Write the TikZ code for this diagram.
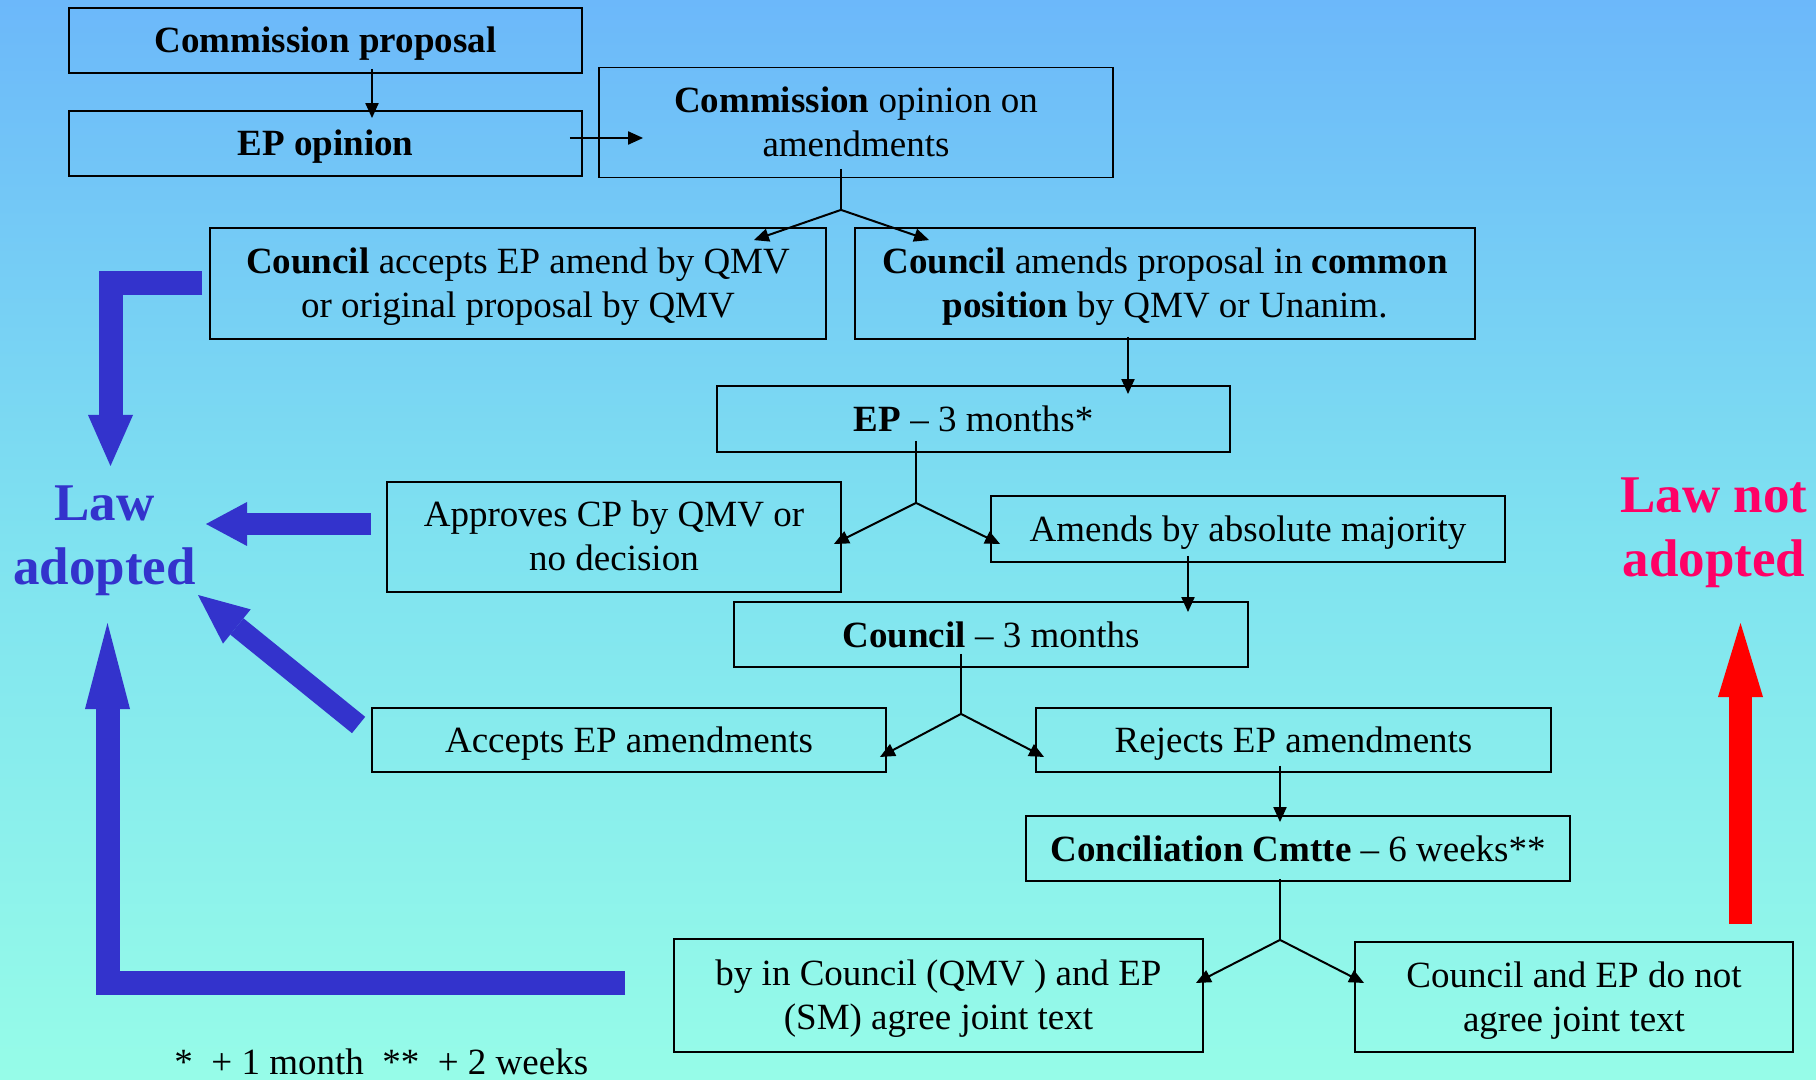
\documentclass[tikz,border=0pt]{standalone}
\usepackage{fontspec}
\setmainfont{Liberation Serif}
\usetikzlibrary{arrows.meta,calc}
\definecolor{bgtop}{RGB}{108,184,250}
\definecolor{bgmid}{RGB}{127,226,240}
\definecolor{bgbot}{RGB}{150,252,232}
\definecolor{lawblue}{RGB}{51,51,204}
\definecolor{lawred}{RGB}{255,0,102}
\newcommand{\topst}{\rule{0pt}{16.5pt}}
\newcommand{\botst}{\rule[-4.5pt]{0pt}{4.5pt}}
\begin{document}
\begin{tikzpicture}[x=0.5pt,y=-0.5pt,
  boxbase/.style={draw=black, line width=0.9pt, inner sep=0pt,
    font=\fontsize{18.5}{22}\selectfont},
  box/.style={boxbase, align=center},
  boxone/.style={boxbase, text height=17pt, text depth=4.5pt},
  arr/.style={draw=black, line width=1pt, -{Triangle[length=7.5pt,width=6.5pt]}},
  stem/.style={draw=black, line width=0.6pt},
  bigblue/.style={draw=lawblue, line width=#1},
  bigtxt/.style={font=\fontsize{26.5}{32}\selectfont\bfseries, align=center, inner sep=0pt}]
\useasboundingbox (0,0) rectangle (1816,1080);
\shade[top color=bgtop, bottom color=bgbot, middle color=bgmid] (0,0) rectangle (1816,1080);

% boxes
\node[boxone, minimum width=256.5pt, minimum height=32.5pt] (cp) at (325.5,40.5) {\textbf{Commission proposal}};
\node[boxone, minimum width=256.5pt, minimum height=32.5pt] (epo) at (325.5,143.5) {\textbf{EP opinion}};
\node[box, minimum width=257pt, minimum height=55pt] (co) at (856,122.5) {\topst\textbf{Commission} opinion on\\amendments\botst};
\node[box, minimum width=308pt, minimum height=55.5pt] (ca) at (518,283.5) {\topst\textbf{Council} accepts EP amend by QMV\\or original proposal by QMV\botst};
\node[box, minimum width=310pt, minimum height=55.5pt] (cam) at (1165,283.5) {\topst\textbf{Council} amends proposal in \textbf{common}\\\textbf{position} by QMV or Unanim.\botst};
\node[boxone, minimum width=256.5pt, minimum height=33pt] (ep3) at (973.5,419) {\textbf{EP} – 3 months*};
\node[box, minimum width=227pt, minimum height=55pt] (apr) at (614,537) {\topst Approves CP by QMV or\\no decision\botst};
\node[boxone, minimum width=257pt, minimum height=33pt] (amd) at (1248,529) {Amends by absolute majority};
\node[boxone, minimum width=257pt, minimum height=32.5pt] (c3) at (991,634.5) {\textbf{Council} – 3 months};
\node[boxone, minimum width=257pt, minimum height=32pt] (acc) at (629,740) {Accepts EP amendments};
\node[boxone, minimum width=257.5pt, minimum height=32pt] (rej) at (1293.5,740) {Rejects EP amendments};
\node[boxone, minimum width=272pt, minimum height=32.5pt] (conc) at (1298,848.5) {\textbf{Conciliation Cmtte} – 6 weeks**};
\node[box, minimum width=264.5pt, minimum height=56.5pt] (agr) at (938.5,995.5) {\topst by in Council (QMV ) and EP\\(SM) agree joint text\botst};
\node[box, minimum width=219pt, minimum height=55pt] (nagr) at (1574,997) {\topst Council and EP do not\\agree joint text\botst};

% outcome labels
\node[bigtxt, text=lawblue] (law) at (104.5,541) {Law\\adopted};
\node[bigtxt, text=lawred] (nolaw) at (1714,533) {Law not\\adopted};
\node[anchor=base west, inner sep=0pt, font=\fontsize{18.5}{22}\selectfont] (fn) at (174,1074) {*\ \ + 1 month \ **\ \ + 2 weeks};

% thin connectors
\draw[arr] ($(cp.south)+(46.5,-5)$) -- ($(epo.north)+(46.5,8)$);
\draw[arr] ($(epo.east)+(-13,-5.5)$) -- ($(co.west)+(45,15.5)$);

\coordinate (f1) at ($(co.south)+(-15,31.5)$);
\draw[stem] ($(co.south)+(-15,-9.5)$) -- (f1);
\draw[arr] (f1) -- ($(ca.north east)+(-73,13)$);
\draw[arr] (f1) -- ($(cam.north west)+(75,13)$);

\draw[arr] ($(cam.south)+(-37,-3)$) -- ($(ep3.north)+(154.5,9)$);

\coordinate (f2) at ($(ep3.south)+(-57.5,50)$);
\draw[stem] ($(ep3.south)+(-57.5,-12)$) -- (f2);
\draw[arr] (f2) -- ($(apr.east)+(-8,7)$);
\draw[arr] (f2) -- ($(amd.west)+(10,15)$);

\draw[arr] ($(amd.south)+(-60,-7)$) -- ($(c3.north)+(197,11)$);

\coordinate (f3) at ($(c3.south)+(-30,46)$);
\draw[stem] ($(c3.south)+(-30,-14)$) -- (f3);
\draw[arr] (f3) -- ($(acc.east)+(-7,17)$);
\draw[arr] (f3) -- ($(rej.west)+(9,17)$);

\draw[arr] ($(rej.south)+(-13.5,-7)$) -- ($(conc.north)+(-18,7)$);

\coordinate (f4) at ($(conc.south)+(-18,58)$);
\draw[stem] ($(conc.south)+(-18,-3)$) -- (f4);
\draw[arr] (f4) -- ($(agr.east)+(-8,-12.5)$);
\draw[arr] (f4) -- ($(nagr.west)+(10,-14)$);

% thick outcome arrows
\coordinate (a1t) at (110.5,466);
\draw[bigblue=12pt, -{Triangle[length=25.5pt,width=22.5pt,line width=0pt]}] ($(ca.west)+(-7,0)$) -- (110.5,283.5) -- (a1t);
\coordinate (a2t) at (206,524);
\draw[bigblue=11pt, -{Triangle[length=20.5pt,width=22pt,line width=0pt]}] ($(apr.west)+(-15,-13)$) -- (a2t);
\coordinate (a3t) at (198,595);
\draw[bigblue=10.5pt, -{Triangle[length=25pt,width=22pt,line width=0pt]}] ($(acc.west)+(-12.5,-15)$) -- (a3t);
\coordinate (a4t) at (107.5,623);
\draw[bigblue=12pt, -{Triangle[length=43pt,width=22.5pt,line width=0pt]}] ($(agr.west)+(-48,-13)$) -- (107.5,982.5) -- (a4t);
\coordinate (rt) at (1740.5,623);
\coordinate (rb) at (1740.5,924);
\draw[draw=red, line width=11.5pt, -{Triangle[length=37pt,width=22.5pt,line width=0pt]}] (rb) -- (rt);
\end{tikzpicture}
\end{document}
